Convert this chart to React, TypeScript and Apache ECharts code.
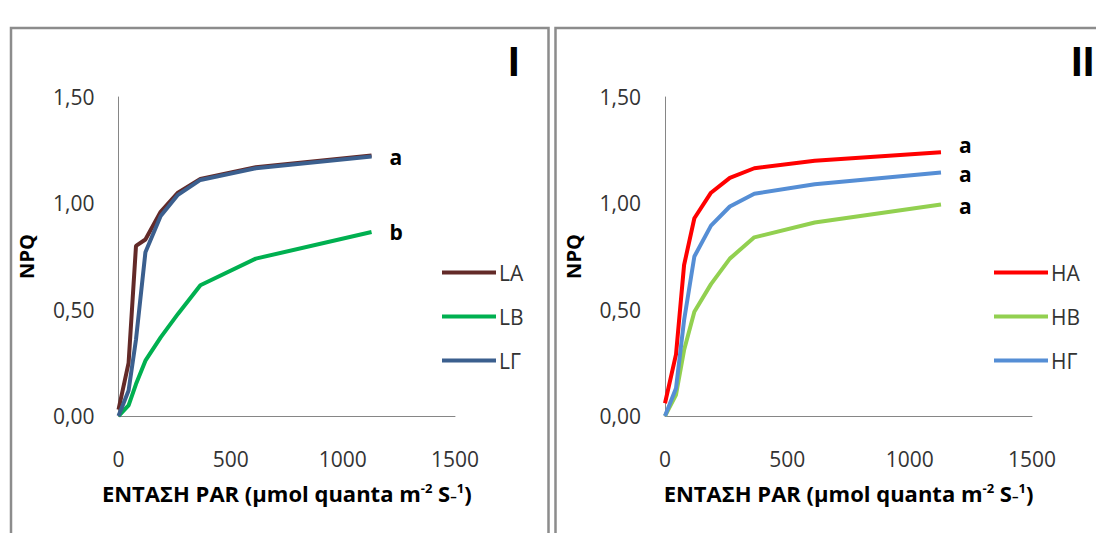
import React, { useEffect, useRef } from "react";
import * as echarts from "echarts";

// PAR intensity (µmol quanta m-2 s-1)
const PAR = [0, 45, 78, 120, 188, 265, 365, 612, 1128];

// Panel I
const LA = [0.03, 0.25, 0.8, 0.83, 0.96, 1.05, 1.115, 1.17, 1.225];
const LB = [0, 0.05, 0.15, 0.26, 0.37, 0.48, 0.615, 0.74, 0.865];
const LG = [0, 0.12, 0.36, 0.77, 0.94, 1.04, 1.11, 1.165, 1.22];

// Panel II
const HA = [0.06, 0.29, 0.71, 0.93, 1.05, 1.12, 1.165, 1.2, 1.24];
const HB = [0, 0.1, 0.31, 0.49, 0.62, 0.74, 0.84, 0.91, 0.995];
const HG = [0, 0.13, 0.45, 0.75, 0.895, 0.985, 1.045, 1.09, 1.145];

const NAMES_I = ["LA", "LB", "LΓ"];
const NAMES_II = ["HA", "HB", "HΓ"];
const LETTERS_I = ["", "b", "a"];
const LETTERS_II = ["a", "a", "a"];
const COLORS_I = ["#632A28", "#00B050", "#3B5F8E"];
const COLORS_II = ["#FF0000", "#92D050", "#558ED5"];

const X_TICKS = [0, 500, 1000, 1500];
const Y_TICKS = [0, 0.5, 1.0, 1.5];

const FONT = "'Open Sans', 'Liberation Sans', sans-serif";
const LABEL_COLOR = "#333333";

const pairs = (ys: number[]) => PAR.map((x, i) => [x, ys[i]]);

export default function App() {
  const ref = useRef<HTMLDivElement>(null);
  useEffect(() => {
    if (!ref.current) return;
    const chart = echarts.init(ref.current, null, { renderer: "svg" });

    const xAxisBase = (gridIndex: number) => ({
      type: "value",
      gridIndex,
      min: X_TICKS[0],
      max: X_TICKS[X_TICKS.length - 1],
      interval: 500,
      axisLine: { show: true, lineStyle: { color: "#868686", width: 1 } },
      axisTick: { show: false },
      splitLine: { show: false },
      axisLabel: {
        fontSize: 21,
        color: LABEL_COLOR,
        fontFamily: FONT,
        margin: 32,
        formatter: (v: number) => String(v),
      },
      name: "{b|ΕΝΤΑΣΗ PAR (μmol quanta m}{sup|-2}{b| S}{sub|–}{sup|1}{b|)}",
      nameLocation: "middle",
      nameGap: 65,
      nameTextStyle: {
        rich: {
          b: { fontSize: 22, fontWeight: "bold", fontFamily: FONT, color: "#000" },
          sup: { fontSize: 13, fontWeight: "bold", fontFamily: FONT, color: "#000", verticalAlign: "top", padding: [0, 0, 10, 0] },
          sub: { fontSize: 13, fontWeight: "bold", fontFamily: FONT, color: "#000", padding: [6, 0, 0, 0] },
        },
      },
    });
    const yAxisBase = (gridIndex: number) => ({
      type: "value",
      gridIndex,
      min: Y_TICKS[0],
      max: Y_TICKS[Y_TICKS.length - 1],
      interval: 0.5,
      axisLine: { show: true, lineStyle: { color: "#868686", width: 1 } },
      axisTick: { show: false },
      splitLine: { show: false },
      axisLabel: {
        fontSize: 21,
        color: LABEL_COLOR,
        fontFamily: FONT,
        margin: 24,
        formatter: (v: number) => v.toFixed(2).replace(".", ","),
      },
      name: "NPQ",
      nameLocation: "middle",
      nameGap: 82,
      nameTextStyle: { fontSize: 20, fontWeight: "bold", fontFamily: FONT, color: "#000" },
    });

    const mk = (name: string, ys: number[], color: string, letter: string, idx: number, dy: number) => ({
      type: "line",
      name,
      xAxisIndex: idx,
      yAxisIndex: idx,
      data: pairs(ys),
      showSymbol: false,
      symbol: "none",
      lineStyle: { color, width: 4 },
      itemStyle: { color },
      z: name === "LΓ" ? 3 : 2,
      endLabel: {
        show: letter !== "",
        formatter: () => letter,
        distance: 18,
        offset: [0, dy],
        fontSize: 21,
        lineHeight: 22,
        fontWeight: "bold",
        fontFamily: FONT,
        color: "#000",
      },
    });

    const seriesI = [LA, LB, LG].map((d, i) => mk(NAMES_I[i], d, COLORS_I[i], LETTERS_I[i], 0, 0));
    const offsII = [-7, 2, 2];
    const seriesII = [HA, HB, HG].map((d, i) => mk(NAMES_II[i], d, COLORS_II[i], LETTERS_II[i], 1, offsII[i]));

    const legendBase = {
      orient: "vertical",
      icon: "rect",
      itemWidth: 54,
      itemHeight: 4,
      itemGap: 23,
      textStyle: { fontSize: 21, color: LABEL_COLOR, fontFamily: FONT, padding: [0, 0, 0, -2] },
      top: 257,
    };

    chart.setOption({
      animation: false,
      backgroundColor: "#fff",
      grid: [
        { left: 118.5, right: 1096 - 455, top: 97, bottom: 533 - 416 },
        { left: 665, right: 1096 - 1032, top: 97, bottom: 533 - 416 },
      ],
      xAxis: [xAxisBase(0), xAxisBase(1)],
      yAxis: [yAxisBase(0), yAxisBase(1)],
      legend: [
        { ...legendBase, data: NAMES_I, left: 437 },
        { ...legendBase, data: NAMES_II, left: 989 },
      ],
      graphic: [
        { type: "rect", shape: { x: 11, y: 28, width: 537.5, height: 520 }, style: { fill: "none", stroke: "#8c8c8c", lineWidth: 2.5 }, z: -1 },
        { type: "rect", shape: { x: 555.5, y: 28, width: 560, height: 520 }, style: { fill: "none", stroke: "#8c8c8c", lineWidth: 2.5 }, z: -1 },
        { type: "text", left: 508, top: 40, style: { text: "I", fontSize: 42, fontWeight: "bold", fontFamily: "'Liberation Sans', sans-serif", fill: "#000" } },
        { type: "text", left: 1071, top: 40, style: { text: "II", fontSize: 42, fontWeight: "bold", fontFamily: "'Liberation Sans', sans-serif", fill: "#000" } },
      ],
      series: [...seriesI, ...seriesII],
    });
    return () => chart.dispose();
  }, []);
  return (
    <div
      ref={ref}
      style={{ position: "fixed", left: 0, top: 0, width: 1096, height: 533, background: "#fff" }}
    />
  );
}
